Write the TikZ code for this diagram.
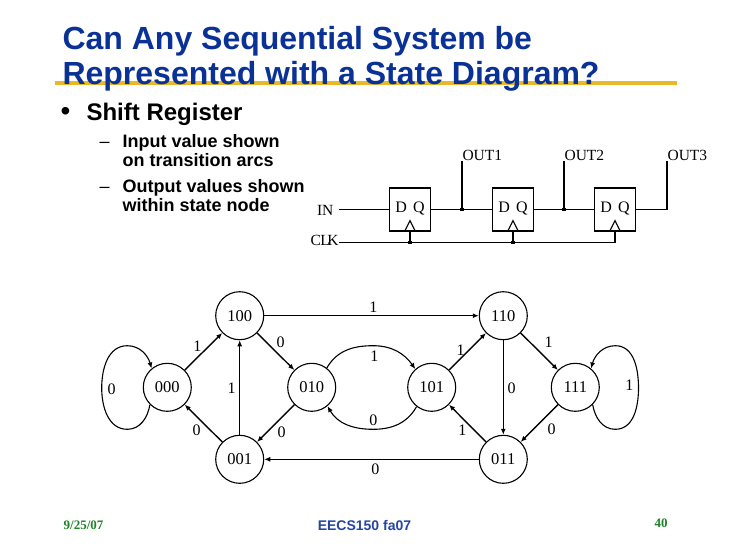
\documentclass[tikz,border=0pt]{standalone}
\usepackage{fontspec}
\setmainfont{Liberation Serif}
\setsansfont{Liberation Sans}
\usetikzlibrary{arrows.meta,calc}
\definecolor{titleblue}{RGB}{10,50,150}
\definecolor{rulegold}{RGB}{232,184,40}
\definecolor{footgreen}{RGB}{30,130,40}
\definecolor{footblue}{RGB}{35,70,160}

\begin{document}
\begin{tikzpicture}[
  x=1pt,y=1pt,
  line width=1.1pt,
  ttl/.style ={anchor=base west,inner sep=0pt,text=titleblue,font=\sffamily\bfseries\fontsize{32}{35}\selectfont},
  bul/.style ={anchor=base west,inner sep=0pt,font=\sffamily\bfseries\fontsize{24}{28}\selectfont},
  sub/.style ={anchor=base west,inner sep=0pt,font=\sffamily\bfseries\fontsize{18}{20}\selectfont},
  sig/.style ={anchor=base west,inner sep=0pt,font=\fontsize{15.5}{18}\selectfont},
  ffb/.style ={draw,minimum width=41pt,minimum height=43pt,inner sep=0pt},
  dq/.style  ={inner sep=0pt,font=\fontsize{16}{18}\selectfont},
  dot/.style ={fill=black,minimum size=3.6pt,inner sep=0pt},
  st/.style  ={draw,circle,minimum size=48pt,inner sep=0pt,font=\fontsize{16.5}{18}\selectfont},
  lb/.style  ={inner sep=0pt,font=\fontsize{16}{18}\selectfont},
  ar/.style  ={-{Latex[length=6pt,width=5pt]},line width=1.1pt},
  arb/.style ={-{Latex[length=6pt,width=5pt]},line width=1.4pt},
  ft/.style  ={inner sep=0pt,font=\bfseries\fontsize{13}{14}\selectfont}
]
\useasboundingbox (0,0) rectangle (730,-547);

% ======== title and text
\coordinate (rl) at (55,-83);
\coordinate (rr) at (677,-83);
\draw[rulegold,line width=4pt] (rl) -- (rr);
\node[ttl] (t1) at (62,-49) {Can Any Sequential System be};
\node[ttl] (t2) at (62,-84) {Represented with a State Diagram?};
\node[bul,font=\sffamily\fontsize{28}{30}\selectfont] (bu) at (60,-120) {•};
\node[bul] (sr) at (86,-120) {Shift Register};
\node[sub,font=\sffamily\fontsize{18}{20}\selectfont] (d1) at (99,-147) {–};
\node[sub] (s1) at (122,-147) {Input value shown};
\node[sub] (s2) at (122,-166) {on transition arcs};
\node[sub,font=\sffamily\fontsize{18}{20}\selectfont] (d2) at (99,-192) {–};
\node[sub] (s3) at (122,-192) {Output values shown};
\node[sub] (s4) at (122,-211) {within state node};

% ======== shift register
\node[sig] (in)  at (316.5,-215.5) {IN};
\node[sig] (clk) at (310,-245.5) {C\kern-0.5pt L\kern-2.5pt K};
\coordinate (inp)  at (339,-209.5);
\coordinate (clkp) at (339,-242.5);
\node[ffb] (ff1) at (410,-209.5) {};
\node[ffb] (ff2) at (513,-209.5) {};
\node[ffb] (ff3) at (615,-209.5) {};
\node[dq] (dq1) at (410,-208.5) {D\hspace{6pt}Q};
\node[dq] (dq2) at (513,-208.5) {D\hspace{6pt}Q};
\node[dq] (dq3) at (615,-208.5) {D\hspace{6pt}Q};
\node[sig] (o1) at (462,-160.5) {OUT1};
\node[sig] (o2) at (564,-160.5) {OUT2};
\node[sig] (o3) at (667,-160.5) {OUT3};
\node[dot] (q1) at (o1.base west |- ff1.east) {};
\node[dot] (q2) at (o2.base west |- ff1.east) {};
\node[dot] (c1) at (ff1.south |- clkp) {};
\node[dot] (c2) at (ff2.south |- clkp) {};

\draw (inp) -- (ff1.west);
\draw (ff1.east) -- (ff2.west);
\draw (ff2.east) -- (ff3.west);
\draw (q1.center) -- (o1.base west);
\draw (q2.center) -- (o2.base west);
\draw (ff3.east) -| (o3.base west);
\draw (clkp) -- (ff3.south |- clkp) -- (ff3.south);
\draw (c1.center) -- (ff1.south);
\draw (c2.center) -- (ff2.south);
% clock wedges
\draw ([xshift=-5.5pt]ff1.south) -- ([yshift=11pt]ff1.south) -- ([xshift=5.5pt]ff1.south);
\draw ([xshift=-5.5pt]ff2.south) -- ([yshift=11pt]ff2.south) -- ([xshift=5.5pt]ff2.south);
\draw ([xshift=-5.5pt]ff3.south) -- ([yshift=11pt]ff3.south) -- ([xshift=5.5pt]ff3.south);

% ======== state nodes
\node[st] (s100) at (239.7,-315.7) {100};
\node[st] (s000) at (167.3,-387.3) {000};
\node[st] (s010) at (311.7,-387.3) {010};
\node[st] (s001) at (239.7,-459.3) {001};
\node[st] (s110) at (503.3,-315.7) {110};
\node[st] (s101) at (431.7,-387.3) {101};
\node[st] (s111) at (575.3,-387.3) {111};
\node[st] (s011) at (503.3,-459.3) {011};

% ======== transitions
\draw[ar]  (s100) -- (s110);
\draw[ar]  (s011) -- (s001);
\draw[ar]  (s001) -- (s100);
\draw[ar]  (s110) -- (s011);
\draw[arb] (s000) -- (s100);
\draw[arb] (s100) -- (s010);
\draw[arb] (s010) -- (s001);
\draw[arb] (s001) -- (s000);
\draw[arb] (s101) -- (s110);
\draw[arb] (s110) -- (s111);
\draw[arb] (s111) -- (s011);
\draw[arb] (s011) -- (s101);
\coordinate (ta) at (373,-345.7);
\coordinate (ba) at (373,-429.3);
\draw[ar] (s010.52) to[out=60,in=180] (ta) to[out=0,in=125] (s101.132);
\draw[ar] (s101.232) to[out=240,in=0] (ba) to[out=180,in=-60] (s010.-50);
% self loops
\coordinate (lb0) at (127.3,-429.3);
\coordinate (ll0) at (101.7,-388);
\coordinate (lt0) at (127.3,-345.7);
\draw[ar] (s000.-135) to[out=-100,in=0] (lb0) to[out=180,in=-90] (ll0)
  to[out=90,in=180] (lt0) to[out=0,in=105] (s000.130);
\coordinate (lb1) at (615.3,-429.3);
\coordinate (lr1) at (638.5,-388);
\coordinate (lt1) at (615.3,-345.7);
\draw[ar] (s111.-45) to[out=-80,in=180] (lb1) to[out=0,in=-90] (lr1)
  to[out=90,in=0] (lt1) to[out=180,in=75] (s111.50);

% ======== arc labels
\node[lb] (a1)  at (373.3,-307) {1};
\node[lb] (a2)  at (197.3,-346.7) {1};
\node[lb] (a3)  at (280.7,-342.7) {0};
\node[lb] (a4)  at (111.7,-389) {0};
\node[lb] (a5)  at (231.7,-388.7) {1};
\node[lb] (a6)  at (196.7,-430.7) {0};
\node[lb] (a7)  at (281.7,-432.3) {0};
\node[lb] (a8)  at (374.3,-356.7) {1};
\node[lb] (a9)  at (373.3,-420) {0};
\node[lb] (a10) at (375.3,-469) {0};
\node[lb] (a11) at (460.7,-350) {1};
\node[lb] (a12) at (548.7,-342.7) {1};
\node[lb] (a13) at (511.7,-388) {0};
\node[lb] (a14) at (629.3,-385.7) {1};
\node[lb] (a15) at (462.3,-430) {1};
\node[lb] (a16) at (551.7,-429) {0};

% ======== footer
\node[ft,text=footgreen] (f1) at (83.5,-525) {9/25/07};
\node[inner sep=0pt,text=footblue,font=\sffamily\bfseries\fontsize{14}{16}\selectfont] (f2) at (364.5,-525) {EECS150 fa07};
\node[ft,text=footgreen] (f3) at (661,-523.5) {40};
\end{tikzpicture}
\end{document}
